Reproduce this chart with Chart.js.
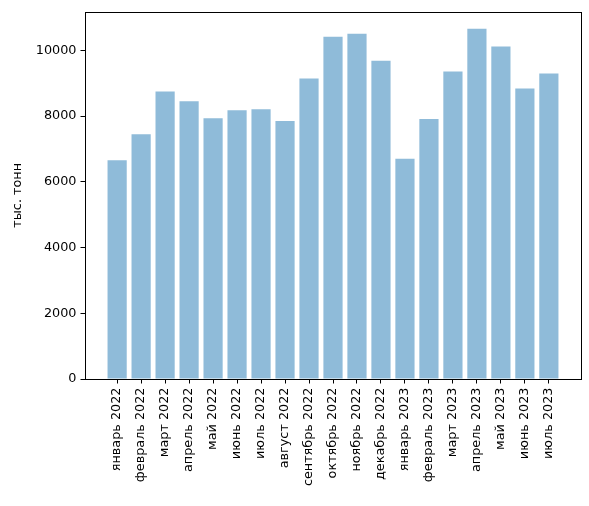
<!DOCTYPE html>
<html>
<head>
<meta charset="utf-8">
<script src="https://cdn.jsdelivr.net/npm/chart.js@4/dist/chart.umd.min.js"></script>
<style>
  html, body { margin: 0; padding: 0; background: #fff; }
  canvas { display: block; }
</style>
</head>
<body>
<canvas id="chart" width="589" height="506"></canvas>
<script>
const months = [
  'январь 2022', 'февраль 2022', 'март 2022', 'апрель 2022', 'май 2022',
  'июнь 2022', 'июль 2022', 'август 2022', 'сентябрь 2022', 'октябрь 2022',
  'ноябрь 2022', 'декабрь 2022', 'январь 2023', 'февраль 2023', 'март 2023',
  'апрель 2023', 'май 2023', 'июнь 2023', 'июль 2023'
];
const volumes = [
  6660, 7450, 8750, 8450, 7940, 8180, 8210, 7850, 9150, 10420,
  10510, 9690, 6700, 7910, 9360, 10660, 10120, 8840, 9300
];
const yTicks = [0, 2000, 4000, 6000, 8000, 10000];

const font = { family: 'DejaVu Sans', size: 12.8 };

// frame around the plot area, like matplotlib spines
const frame = {
  id: 'frame',
  afterDraw(chart) {
    const a = chart.chartArea, c = chart.ctx;
    c.save();
    c.strokeStyle = '#000';
    c.lineWidth = 1;
    c.strokeRect(Math.round(a.left) + 0.5, Math.round(a.top) + 0.5,
      Math.round(a.right - a.left), Math.round(a.bottom - a.top));
    c.restore();
  }
};

new Chart(document.getElementById('chart'), {
  type: 'bar',
  data: {
    datasets: [{
      data: volumes.map((v, i) => ({ x: i, y: v })),
      backgroundColor: 'rgba(31,119,180,0.5)',
      borderWidth: 0,
      barPercentage: 0.8,
      categoryPercentage: 1
    }]
  },
  options: {
    responsive: false,
    devicePixelRatio: 1,
    animation: false,
    layout: { padding: { top: 10, right: 8, left: 0, bottom: 0 } },
    plugins: { legend: { display: false }, tooltip: { enabled: false } },
    scales: {
      x: {
        type: 'linear',
        offset: false,
        min: -1.34,
        max: 19.34,
        afterBuildTicks: s => { s.ticks = months.map((_, i) => ({ value: i })); },
        afterFit: s => { s.height = 127; },
        grid: { offset: false, drawOnChartArea: false, tickLength: 4.5, tickColor: '#000', tickWidth: 1 },
        border: { display: false },
        ticks: {
          autoSkip: false,
          minRotation: 90,
          maxRotation: 90,
          padding: 4,
          color: '#000',
          font: font,
          callback: v => months[v]
        }
      },
      y: {
        min: 0,
        max: 11180,
        afterBuildTicks: s => { s.ticks = yTicks.map(v => ({ value: v })); },
        afterFit: s => { s.width = 85; },
        grid: { drawOnChartArea: false, tickLength: 4.5, tickColor: '#000', tickWidth: 1 },
        border: { display: false },
        ticks: { color: '#000', font: font, padding: 4, callback: v => String(v) },
        title: {
          display: true,
          text: 'тыс. тонн',
          color: '#000',
          font: font,
          padding: { top: 10, bottom: 4 }
        }
      }
    }
  },
  plugins: [frame]
});
</script>
</body>
</html>
